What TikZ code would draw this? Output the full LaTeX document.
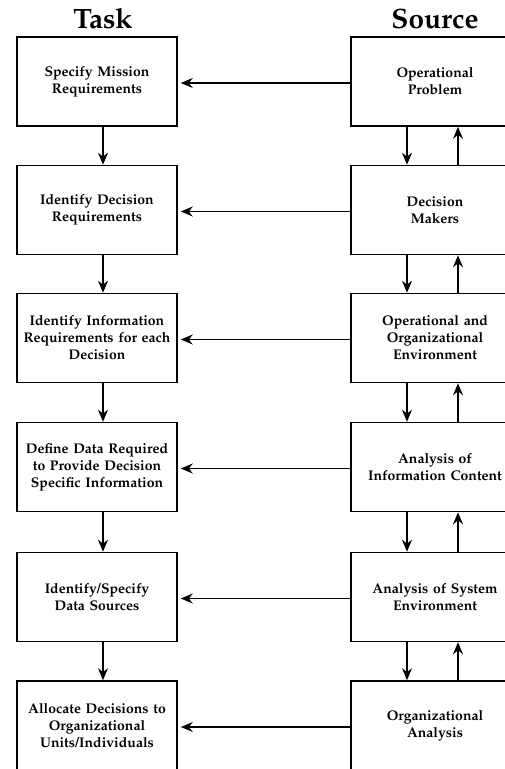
\documentclass[tikz,border=0pt]{standalone}
\usepackage[T1]{fontenc}
\usepackage{mathpazo}
\usetikzlibrary{arrows.meta,calc}
\begin{document}
\begin{tikzpicture}[x=1pt,y=-1pt,
  box/.style={draw=black,line width=1.6pt,minimum height=89pt,inner sep=0pt,
    align=center,font=\fontsize{14}{17}\selectfont\bfseries},
  taskbox/.style={box,minimum width=160pt,text width=158pt},
  srcbox/.style={box,minimum width=168pt,text width=166pt},
  arr/.style={line width=1.6pt,-{Stealth[length=12pt,width=10pt,inset=4pt]}},
  head/.style={font=\fontsize{28}{30}\selectfont\bfseries,anchor=base,inner sep=0pt}]
\useasboundingbox (0,0) rectangle (505,769);
\clip (0,0) rectangle (505,769);

% column headings
\node[head] (task) at (103,28) {Task};
\node[head] (src) at (435,28) {Source};

% task column
\node[taskbox] (t1) at (97,81.5)  {Specify Mission\\Requirements};
\node[taskbox] (t2) at (97,210)   {Identify Decision\\Requirements};
\node[taskbox] (t3) at (97,338)   {Identify Information\\Requirements for each\\Decision};
\node[taskbox] (t4) at (97,467)   {Define Data Required\\to Provide Decision\\Specific Information};
\node[taskbox] (t5) at (97,597)   {Identify/Specify\\Data Sources};
\node[taskbox] (t6) at (97,725.5) {Allocate Decisions to\\Organizational\\Units/Individuals};

% source column
\node[srcbox] (s1) at (435,81.5)  {Operational\\Problem};
\node[srcbox] (s2) at (435,210)   {Decision\\Makers};
\node[srcbox] (s3) at (435,338)   {Operational and\\Organizational\\Environment};
\node[srcbox] (s4) at (435,467)   {Analysis of\\Information Content};
\node[srcbox] (s5) at (435,597)   {Analysis of System\\Environment};
\node[srcbox] (s6) at (435,725.5) {Organizational\\Analysis};

% vertical lanes for the connectors
\coordinate (ldn) at (103,0);
\coordinate (rdn) at (407,0);
\coordinate (rup) at (458,0);

\foreach \i/\j in {1/2,2/3,3/4,4/5,5/6}{
  \draw[arr] (t\i.south -| ldn) -- (t\j.north -| ldn);
  \draw[arr] (s\i.south -| rdn) -- (s\j.north -| rdn);
  \draw[arr] (s\j.north -| rup) -- (s\i.south -| rup);
}
\foreach \i in {1,...,6}{
  \draw[arr,shorten >=3pt] ([yshift=-1.5pt]s\i.west) -- ([yshift=-1.5pt]t\i.east);
}
\end{tikzpicture}
\end{document}
